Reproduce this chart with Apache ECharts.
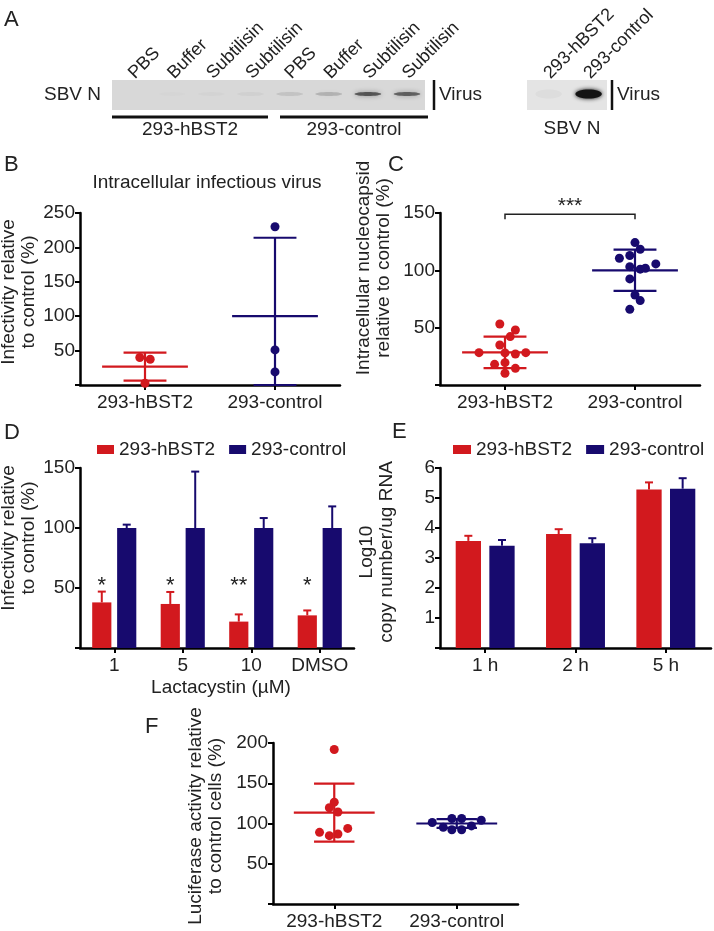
<!DOCTYPE html>
<html>
<head>
<meta charset="utf-8">
<script src="https://cdn.jsdelivr.net/npm/echarts@6/dist/echarts.min.js"></script>
<style>
html, body { margin: 0; padding: 0; background: #fff; }
#fig { width: 714px; height: 931px; }
</style>
</head>
<body>
<div id="fig"></div>
<script>
var RED = '#d2191e', BLUE = '#170a6e', INK = '#222';
var FONT = '"Liberation Sans", Arial, Helvetica, sans-serif';
var FS = 19;

var groups = ['293-hBST2', '293-control'];

// A - western blot lanes and band strength
var blotLanes = ['PBS', 'Buffer', 'Subtilisin', 'Subtilisin', 'PBS', 'Buffer', 'Subtilisin', 'Subtilisin'];
var blotSignal = [0.0, 0.01, 0.02, 0.04, 0.1, 0.18, 0.6, 0.55];
var blot2Lanes = ['293-hBST2', '293-control'];
var blot2Signal = [0.03, 1.0];

// B - intracellular infectious virus
var bHbst2 = [40, 37.5, 2.5];
var bHbst2Jit = [-0.04, 0.04, 0];
var bCtrl = [230, 51, 19];
var bCtrlJit = [0, 0, 0];
var bMean = [26.7, 100];
var bSd = [20.4, 114];

// C - intracellular nucleocapsid
var cHbst2 = [53.2, 48, 42.2, 34.9, 28.2, 27, 28.2, 18, 19.5, 14.5, 10.2, 28];
var cHbst2Jit = [-0.04, 0.08, 0.04, -0.04, -0.2, 0.08, 0.16, -0.08, 0, 0.08, 0, 0];
var cCtrl = [124.2, 118.4, 110.5, 112.9, 105.6, 103.2, 101, 101.8, 92.5, 78.5, 73.6, 66];
var cCtrlJit = [0, 0.04, -0.12, -0.04, 0.16, -0.04, 0.04, 0.08, -0.04, 0, 0.04, -0.04];
var cMean = [28.5, 100];
var cSd = [13.7, 18];

// D - lactacystin
var dDoses = ['1', '5', '10', 'DMSO'];
var dHbst2 = [38, 36.7, 22, 27.2];
var dHbst2Err = [9, 10, 6, 4.1];
var dCtrl = [100, 100, 100, 100];
var dCtrlErr = [2.8, 47, 8.3, 18];
var dStars = ['*', '*', '**', '*'];

// E - viral RNA
var eTimes = ['1 h', '2 h', '5 h'];
var eHbst2 = [3.57, 3.8, 5.28];
var eHbst2Err = [0.17, 0.16, 0.24];
var eCtrl = [3.41, 3.49, 5.31];
var eCtrlErr = [0.19, 0.17, 0.35];

// F - luciferase
var fHbst2 = [191.9, 126.5, 119.6, 114.3, 89, 93.9, 84.9, 87];
var fHbst2Jit = [0, 0, -0.04, 0.03, -0.12, 0.11, -0.04, 0.03];
var fCtrl = [101.3, 106.2, 106.2, 104.1, 95.2, 92.3, 92.3, 97];
var fCtrlJit = [-0.2, -0.04, 0.04, 0.2, -0.11, -0.04, 0.04, 0.12];
var fMean = [113.5, 100];
var fSd = [36, 5.5];

var chart = echarts.init(document.getElementById('fig'));

var axisTick = { show: true, length: 5, lineStyle: { color: '#000', width: 2 } };

function yVal(grid, max, step) {
    return {
        type: 'value', gridIndex: grid, min: 0, max: max, interval: step,
        axisLine: { show: true, onZero: false, lineStyle: { color: '#000', width: 2.5 } },
        axisTick: axisTick, splitLine: { show: false },
        axisLabel: { fontSize: FS, color: INK, margin: 5, formatter: function (v) { return v === 0 ? '' : v; } }
    };
}
function xCat(grid, cats) {
    return {
        type: 'category', gridIndex: grid, data: cats,
        axisLine: { show: true, onZero: false, lineStyle: { color: '#000', width: 2.5 } },
        axisTick: { show: true, alignWithLabel: true, length: 5, lineStyle: { color: '#000', width: 2 } },
        axisLabel: { fontSize: FS, color: INK, margin: 8, interval: 0 }
    };
}
function xJit(grid) {
    return { type: 'value', gridIndex: grid, min: -0.5, max: 1.5, show: false };
}
function blotAxis(grid, lanes) {
    return {
        type: 'category', gridIndex: grid, data: lanes, position: 'top',
        axisLine: { show: false }, axisTick: { show: false },
        axisLabel: { rotate: 45, fontSize: 18, color: INK, margin: 4, interval: 0 }
    };
}
function hidY(grid) {
    return { type: 'value', gridIndex: grid, min: 0, max: 1, show: false };
}

// mean line + SD whiskers for the dot plots
function meanSd(params, api) {
    var x = api.value(0), m = api.value(1), sd = api.value(2);
    var col = x === 0 ? RED : BLUE;
    var c = api.coord([x, m]);
    var t = api.coord([x, m + sd]);
    var b = api.coord([x, Math.max(m - sd, 0)]);
    var hw = api.size([0.33, 0])[0], cw = hw / 2;
    var st = { stroke: col, lineWidth: 2.2 };
    return {
        type: 'group', children: [
            { type: 'line', shape: { x1: c[0] - hw, y1: c[1], x2: c[0] + hw, y2: c[1] }, style: st },
            { type: 'line', shape: { x1: t[0], y1: t[1], x2: b[0], y2: b[1] }, style: st },
            { type: 'line', shape: { x1: t[0] - cw, y1: t[1], x2: t[0] + cw, y2: t[1] }, style: st },
            { type: 'line', shape: { x1: b[0] - cw, y1: b[1], x2: b[0] + cw, y2: b[1] }, style: st }
        ]
    };
}

// error bar above a grouped bar
function barErr(side, col, bw, gap) {
    return function (params, api) {
        var i = api.value(0), v = api.value(1), e = api.value(2);
        var band = api.size([1, 0])[0];
        var off = side * band * bw * (1 + gap) / 2;
        var base = api.coord([i, v]), top = api.coord([i, v + e]);
        var x = base[0] + off;
        var st = { stroke: col, lineWidth: 2 };
        return {
            type: 'group', children: [
                { type: 'line', shape: { x1: x, y1: base[1], x2: x, y2: top[1] }, style: st },
                { type: 'line', shape: { x1: x - 4, y1: top[1], x2: x + 4, y2: top[1] }, style: st }
            ]
        };
    };
}

function blotBand(dark) {
    return function (params, api) {
        var c = api.coord([api.value(0), 0.5]);
        var band = api.size([1, 0])[0];
        var s = api.value(1);
        return {
            type: 'ellipse',
            shape: { cx: c[0] + band * 0.04, cy: c[1] - 1, rx: band * (dark ? 0.33 : 0.34), ry: dark ? 4.5 : 2 },
            style: { fill: 'rgba(20,20,20,' + s + ')', shadowBlur: dark ? 4 : 5, shadowColor: 'rgba(20,20,20,' + s + ')' }
        };
    };
}

function pairs(vals, jit, g) {
    return vals.map(function (v, i) { return [g + jit[i], v]; });
}
function msData(mean, sd) {
    return mean.map(function (m, i) { return [i, m, sd[i]]; });
}
function errData(vals, err) {
    return vals.map(function (v, i) { return [i, v, err[i]]; });
}
function dots(name, xi, yi, col, data) {
    return { type: 'scatter', name: name, xAxisIndex: xi, yAxisIndex: yi, symbolSize: 9,
        itemStyle: { color: col, opacity: 1 }, data: data };
}

function txt(x, y, s, size, extra) {
    var o = { type: 'text', x: x, y: y, style: { text: s, fontSize: size, fill: INK, fontFamily: FONT, align: 'left', verticalAlign: 'middle' } };
    if (extra) { for (var k in extra) { o.style[k] = extra[k]; } }
    return o;
}
function vtxt(x, y, s) {
    return { type: 'text', x: x, y: y, rotation: Math.PI / 2,
        style: { text: s, fontSize: FS, fill: INK, fontFamily: FONT, align: 'center', verticalAlign: 'middle', lineHeight: 20 } };
}
function hline(x1, y1, x2, y2, w) {
    return { type: 'line', shape: { x1: x1, y1: y1, x2: x2, y2: y2 }, style: { stroke: '#111', lineWidth: w } };
}

var option = {
    animation: false,
    backgroundColor: '#fff',
    textStyle: { fontFamily: FONT },
    grid: [
        { left: 112, top: 80, width: 313, height: 30, show: true, backgroundColor: '#d8d8d8', borderWidth: 0 },
        { left: 527, top: 80, width: 80, height: 30, show: true, backgroundColor: '#e4e4e4', borderWidth: 0 },
        { left: 80, top: 213, width: 260, height: 172 },
        { left: 440, top: 213, width: 260, height: 172 },
        { left: 80, top: 468, width: 274, height: 180 },
        { left: 440, top: 468, width: 271, height: 180 },
        { left: 273, top: 743, width: 245, height: 163 }
    ],
    xAxis: [
        blotAxis(0, blotLanes),
        blotAxis(1, blot2Lanes),
        xCat(2, groups), xJit(2),
        xCat(3, groups), xJit(3),
        xCat(4, dDoses),
        xCat(5, eTimes),
        xCat(6, groups), xJit(6)
    ],
    yAxis: [
        hidY(0), hidY(1),
        yVal(2, 250, 50),
        yVal(3, 150, 50),
        yVal(4, 150, 50),
        yVal(5, 6, 1),
        yVal(6, 200, 50)
    ],
    legend: [
        { data: groups, left: 92, top: 435, icon: 'rect', itemWidth: 17, itemHeight: 9, itemGap: 14,
          textStyle: { fontSize: FS, color: INK } },
        { data: groups, left: 448, top: 435, icon: 'rect', itemWidth: 18, itemHeight: 9, itemGap: 14,
          textStyle: { fontSize: FS, color: INK } }
    ],
    series: [
        { type: 'custom', xAxisIndex: 0, yAxisIndex: 0, renderItem: blotBand(false),
          data: blotSignal.map(function (s, i) { return [i, s]; }) },
        { type: 'custom', xAxisIndex: 1, yAxisIndex: 1, renderItem: blotBand(true),
          data: blot2Signal.map(function (s, i) { return [i, s]; }) },

        // B
        { type: 'custom', xAxisIndex: 3, yAxisIndex: 2, renderItem: meanSd, data: msData(bMean, bSd) },
        dots('B hBST2', 3, 2, RED, pairs(bHbst2, bHbst2Jit, 0)),
        dots('B control', 3, 2, BLUE, pairs(bCtrl, bCtrlJit, 1)),

        // C
        { type: 'custom', xAxisIndex: 5, yAxisIndex: 3, renderItem: meanSd, data: msData(cMean, cSd) },
        dots('C hBST2', 5, 3, RED, pairs(cHbst2, cHbst2Jit, 0)),
        dots('C control', 5, 3, BLUE, pairs(cCtrl, cCtrlJit, 1)),
        { type: 'custom', xAxisIndex: 5, yAxisIndex: 3, data: [[0, 1, '***']],
          renderItem: function (params, api) {
              var l = api.coord([api.value(0), 149]), r = api.coord([api.value(1), 149]);
              return { type: 'group', children: [
                  { type: 'polyline', shape: { points: [[l[0], l[1] + 5], [l[0], l[1]], [r[0], l[1]], [r[0], l[1] + 5]] },
                    style: { stroke: INK, lineWidth: 1.5, fill: null } },
                  { type: 'text', x: (l[0] + r[0]) / 2, y: l[1] - 8,
                    style: { text: '***', fontSize: 21, fill: INK, align: 'center', verticalAlign: 'middle' } }
              ] };
          } },

        // D
        { type: 'bar', name: groups[0], xAxisIndex: 6, yAxisIndex: 4, barWidth: '28%', barGap: '30%',
          itemStyle: { color: RED }, data: dHbst2 },
        { type: 'bar', name: groups[1], xAxisIndex: 6, yAxisIndex: 4, barWidth: '28%', barGap: '30%',
          itemStyle: { color: BLUE }, data: dCtrl },
        { type: 'custom', xAxisIndex: 6, yAxisIndex: 4, renderItem: barErr(-1, RED, 0.28, 0.3), data: errData(dHbst2, dHbst2Err) },
        { type: 'custom', xAxisIndex: 6, yAxisIndex: 4, renderItem: barErr(1, BLUE, 0.28, 0.3), data: errData(dCtrl, dCtrlErr) },
        { type: 'custom', xAxisIndex: 6, yAxisIndex: 4,
          data: dStars.map(function (s, i) { return [i, s]; }),
          renderItem: function (params, api) {
              var p = api.coord([api.value(0), 55]);
              var off = api.size([1, 0])[0] * 0.28 * 1.3 / 2;
              return { type: 'text', x: p[0] - off, y: p[1] + 4,
                  style: { text: dStars[params.dataIndex], fontSize: 22, fill: INK, align: 'center', verticalAlign: 'middle' } };
          } },

        // E
        { type: 'bar', name: groups[0], xAxisIndex: 7, yAxisIndex: 5, barWidth: '28%', barGap: '33%',
          itemStyle: { color: RED }, data: eHbst2 },
        { type: 'bar', name: groups[1], xAxisIndex: 7, yAxisIndex: 5, barWidth: '28%', barGap: '33%',
          itemStyle: { color: BLUE }, data: eCtrl },
        { type: 'custom', xAxisIndex: 7, yAxisIndex: 5, renderItem: barErr(-1, RED, 0.28, 0.33), data: errData(eHbst2, eHbst2Err) },
        { type: 'custom', xAxisIndex: 7, yAxisIndex: 5, renderItem: barErr(1, BLUE, 0.28, 0.33), data: errData(eCtrl, eCtrlErr) },

        // F
        { type: 'custom', xAxisIndex: 9, yAxisIndex: 6, renderItem: meanSd, data: msData(fMean, fSd) },
        dots('F hBST2', 9, 6, RED, pairs(fHbst2, fHbst2Jit, 0)),
        dots('F control', 9, 6, BLUE, pairs(fCtrl, fCtrlJit, 1))
    ],
    graphic: [
        // panel letters
        txt(4, 20, 'A', 22), txt(4, 165, 'B', 22), txt(388, 165, 'C', 22),
        txt(4, 433, 'D', 22), txt(392, 432, 'E', 22), txt(145, 727, 'F', 22),

        // A annotations
        txt(101, 95, 'SBV N', FS, { align: 'right' }),
        hline(434, 80, 434, 110, 2.5), txt(439, 95, 'Virus', FS),
        hline(112, 117, 268, 117, 3), hline(280, 117, 428, 117, 3),
        txt(190, 130, '293-hBST2', FS, { align: 'center' }),
        txt(354, 130, '293-control', FS, { align: 'center' }),
        hline(612, 80, 612, 110, 2.5), txt(617, 95, 'Virus', FS),
        txt(572, 129, 'SBV N', FS, { align: 'center' }),

        // titles and axis names
        txt(207, 183, 'Intracellular infectious virus', FS, { align: 'center' }),
        vtxt(19, 292, 'Infectivity relative\nto control (%)'),
        vtxt(374, 268, 'Intracellular nucleocapsid\nrelative to control (%)'),
        vtxt(19, 538, 'Infectivity relative\nto control (%)'),
        vtxt(377, 552, 'Log10\ncopy number/ug RNA'),
        vtxt(206, 816, 'Luciferase activity relative\nto control cells (%)'),
        txt(221, 688, 'Lactacystin (\u00b5M)', FS, { align: 'center' })
    ]
};

chart.setOption(option);
</script>
</body>
</html>
